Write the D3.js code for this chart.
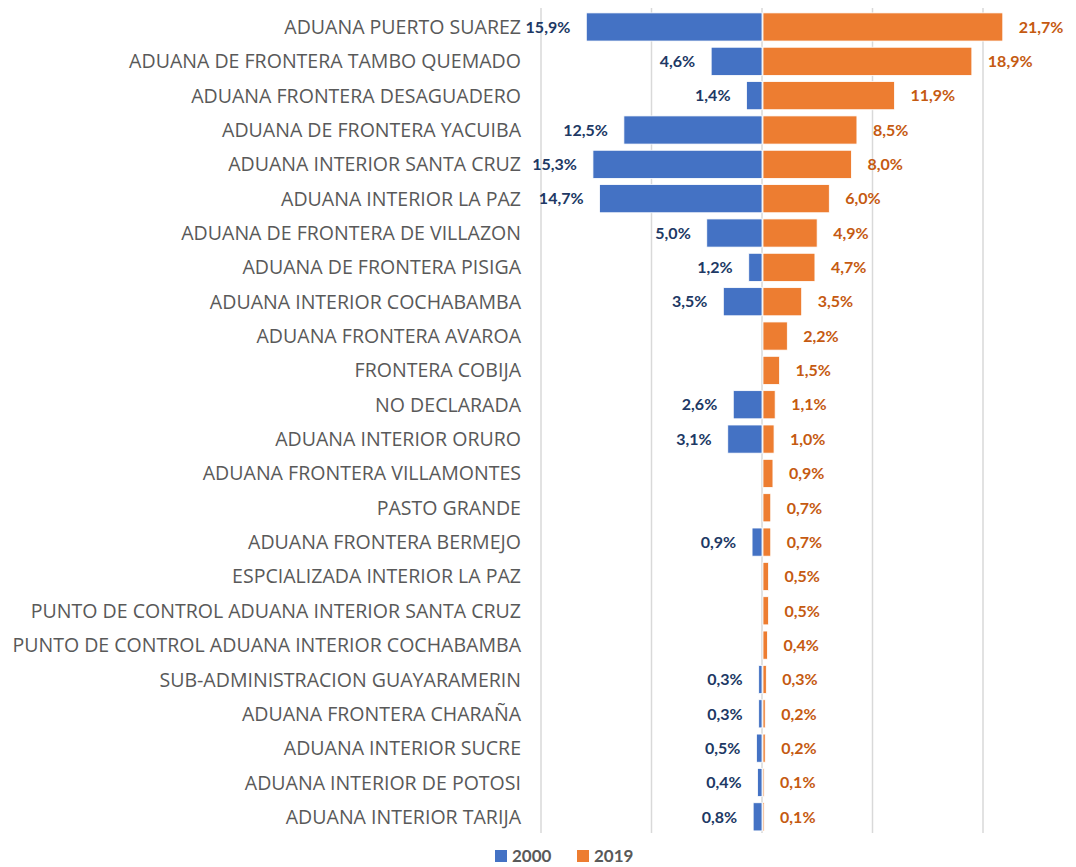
<!DOCTYPE html>
<html>
<head>
<meta charset="utf-8">
<script src="https://cdn.jsdelivr.net/npm/d3@7"></script>
<style>
  html, body { margin: 0; padding: 0; background: #fff; }
  svg { display: block; }
</style>
</head>
<body>
<svg id="chart" width="1076" height="867"></svg>
<script>
const categories = [
  "ADUANA PUERTO SUAREZ",
  "ADUANA DE FRONTERA TAMBO QUEMADO",
  "ADUANA FRONTERA DESAGUADERO",
  "ADUANA DE FRONTERA YACUIBA",
  "ADUANA INTERIOR SANTA CRUZ",
  "ADUANA INTERIOR LA PAZ",
  "ADUANA DE FRONTERA DE VILLAZON",
  "ADUANA DE FRONTERA PISIGA",
  "ADUANA INTERIOR COCHABAMBA",
  "ADUANA FRONTERA AVAROA",
  "FRONTERA COBIJA",
  "NO DECLARADA",
  "ADUANA INTERIOR ORURO",
  "ADUANA FRONTERA VILLAMONTES",
  "PASTO GRANDE",
  "ADUANA FRONTERA BERMEJO",
  "ESPCIALIZADA INTERIOR LA PAZ",
  "PUNTO DE CONTROL ADUANA INTERIOR SANTA CRUZ",
  "PUNTO DE CONTROL ADUANA INTERIOR COCHABAMBA",
  "SUB-ADMINISTRACION GUAYARAMERIN",
  "ADUANA FRONTERA CHARAÑA",
  "ADUANA INTERIOR SUCRE",
  "ADUANA INTERIOR DE POTOSI",
  "ADUANA INTERIOR TARIJA"
];
const values2000 = [15.9, 4.6, 1.4, 12.5, 15.3, 14.7, 5.0, 1.2, 3.5, null, null, 2.6, 3.1, null, null, 0.9, null, null, null, 0.3, 0.3, 0.5, 0.4, 0.8];
const values2019 = [21.7, 18.9, 11.9, 8.5, 8.0, 6.0, 4.9, 4.7, 3.5, 2.2, 1.5, 1.1, 1.0, 0.9, 0.7, 0.7, 0.5, 0.5, 0.4, 0.3, 0.2, 0.2, 0.1, 0.1];
const gridTicks = [-20, -10, 0, 10, 20];
const seriesNames = ["2000", "2019"];

const colors = { bar2000: "#4472C4", bar2019: "#ED7D31", lab2000: "#203864", lab2019: "#C55A11" };

const svg = d3.select("#chart");
const x = d3.scaleLinear().domain([-20, 20]).range([541, 983]);
const y = d3.scaleBand().domain(categories).range([9.8, 834]).paddingInner(0.18).paddingOuter(0.09);

// gridlines
svg.append("g").selectAll("line").data(gridTicks).join("line")
  .attr("x1", d => x(d)).attr("x2", d => x(d))
  .attr("y1", 8).attr("y2", 833)
  .attr("stroke", "#d9d9d9").attr("stroke-width", 1.5);

const fmt = v => d3.format(".1f")(v).replace(".", ",") + "%";

const rows = categories.map((c, i) => ({ c, a: values2000[i], b: values2019[i] }));

// 2000 bars (left)
svg.append("g").selectAll("rect").data(rows.filter(d => d.a != null)).join("rect")
  .attr("x", d => x(-d.a)).attr("width", d => x(0) - x(-d.a))
  .attr("y", d => y(d.c)).attr("height", y.bandwidth())
  .attr("fill", colors.bar2000).attr("stroke", "#fff").attr("stroke-width", 0.8);

// 2019 bars (right)
svg.append("g").selectAll("rect").data(rows.filter(d => d.b != null)).join("rect")
  .attr("x", x(0) + 1).attr("width", d => x(d.b) - x(0))
  .attr("y", d => y(d.c)).attr("height", y.bandwidth())
  .attr("fill", colors.bar2019).attr("stroke", "#fff").attr("stroke-width", 0.8);

// value labels
const labFont = "Lato, 'Open Sans', sans-serif";
svg.append("g").selectAll("text").data(rows.filter(d => d.a != null)).join("text")
  .attr("x", d => x(-d.a) - 16).attr("y", d => y(d.c) + y.bandwidth() / 2)
  .attr("dy", "0.36em").attr("text-anchor", "end")
  .attr("font-family", labFont).attr("font-weight", "bold").attr("font-size", 16)
  .attr("fill", colors.lab2000).text(d => fmt(d.a));

svg.append("g").selectAll("text").data(rows.filter(d => d.b != null)).join("text")
  .attr("x", d => x(d.b) + 17).attr("y", d => y(d.c) + y.bandwidth() / 2)
  .attr("dy", "0.36em").attr("text-anchor", "start")
  .attr("font-family", labFont).attr("font-weight", "bold").attr("font-size", 16)
  .attr("fill", colors.lab2019).text(d => fmt(d.b));

// category labels
const catText = svg.append("g").selectAll("text").data(categories).join("text")
  .attr("x", 521).attr("y", d => y(d) + y.bandwidth() / 2)
  .attr("dy", "0.36em").attr("text-anchor", "end")
  .attr("font-family", "'Open Sans', sans-serif").attr("font-size", 16)
  .attr("fill", "#595959").text(d => d);
// fit longest label to reference width (~509px)
let maxW = 0;
catText.each(function () { maxW = Math.max(maxW, this.getComputedTextLength()); });
if (maxW > 0) catText.attr("font-size", 16 * 509 / maxW);

// legend
const legend = svg.append("g");
const legItems = [
  { name: seriesNames[0], color: colors.bar2000, x: 495 },
  { name: seriesNames[1], color: colors.bar2019, x: 577 }
];
legItems.forEach(it => {
  legend.append("rect").attr("x", it.x).attr("y", 850).attr("width", 12).attr("height", 12).attr("fill", it.color);
  legend.append("text").attr("x", it.x + 17).attr("y", 862)
    .attr("font-family", labFont).attr("font-weight", "bold").attr("font-size", 17)
    .attr("fill", "#595959").text(it.name);
});
</script>
</body>
</html>
